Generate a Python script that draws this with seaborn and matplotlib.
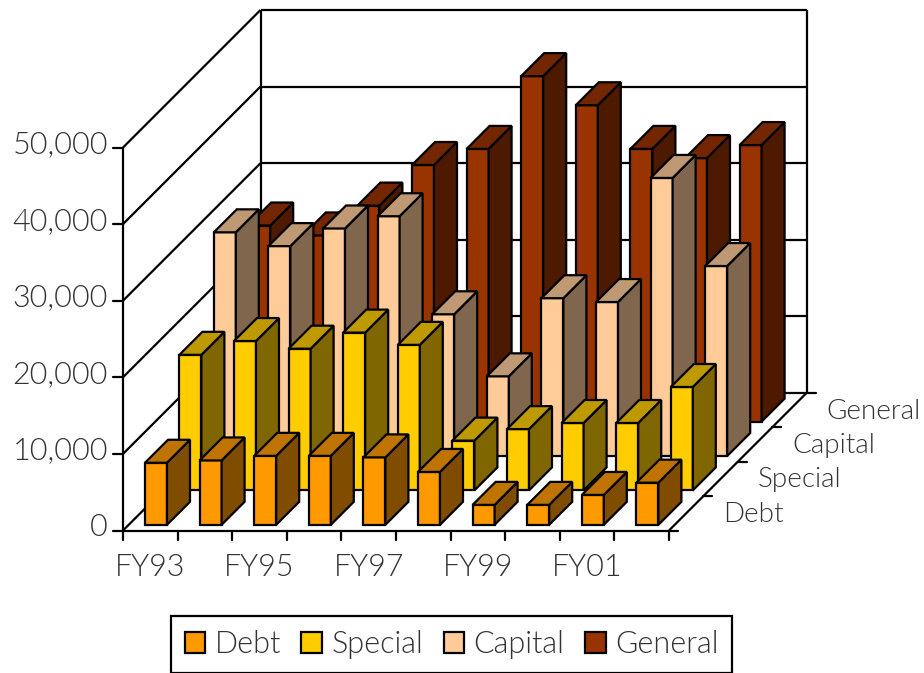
import matplotlib
matplotlib.use("Agg")
import matplotlib.pyplot as plt
from matplotlib.patches import Polygon, Patch
import seaborn as sns
import pandas as pd

years = ["FY93", "FY94", "FY95", "FY96", "FY97", "FY98", "FY99", "FY00", "FY01", "FY02"]
shown_years = ["FY93", "FY95", "FY97", "FY99", "FY01"]
series = ["Debt", "Special", "Capital", "General"]
debt = [8100, 8400, 9000, 9000, 8800, 6900, 2600, 2600, 3900, 5500]
special = [17700, 19500, 18500, 20600, 19000, 6500, 8000, 8800, 8800, 13500]
capital = [29200, 27400, 29700, 31300, 18500, 10400, 20600, 20100, 36300, 24800]
general = [25600, 24300, 28200, 33500, 35600, 45100, 41300, 35600, 34400, 36100]
yticks = [0, 10000, 20000, 30000, 40000, 50000]
colors = ["#FF9900", "#FFCC00", "#FFCC99", "#993300"]

df = pd.DataFrame({"Debt": debt, "Special": special, "Capital": capital, "General": general}, index=years)

sns.set_theme(style="white")
plt.rcParams["font.family"] = ["Lato", "DejaVu Sans"]
TXT = "#333333"
W = 300

fig = plt.figure(figsize=(9.24, 6.73), dpi=100)
ax = fig.add_axes([0, 0, 1, 1])
ax.set_xlim(0, 924)
ax.set_ylim(673, 0)
ax.axis("off")

X0, Y0 = 123.0, 530.5
DX = 54.6
DEPTH = 34.4
VS = 383.0 / 50000
N, M = len(years), len(series)


def proj(x, d, v):
    return (X0 + x * DX + d * DEPTH, Y0 - d * DEPTH - v * VS)


def line(a, b, lw=1.6):
    ax.plot([a[0], b[0]], [a[1], b[1]], color="black", lw=lw, solid_capstyle="butt", zorder=1)


top = yticks[-1]
line(proj(0, 0, 0), proj(0, 0, top))
line(proj(0, M, 0), proj(0, M, top))
line(proj(N, M, 0), proj(N, M, top))
line(proj(0, 0, 0), proj(N, 0, 0))
line(proj(N, 0, 0), proj(N, M, 0))
for v in yticks:
    line(proj(0, 0, v), proj(0, M, v))
    line(proj(0, M, v), proj(N, M, v))
    p = proj(0, 0, v)
    ax.plot([p[0] - 10, p[0]], [p[1], p[1]], color="black", lw=1.6, zorder=1)
    ax.text(108, p[1] - 3, f"{v:,}", ha="right", va="center", fontsize=22, color=TXT, fontweight=W)
for i in range(N + 1):
    p = proj(i, 0, 0)
    ax.plot([p[0], p[0]], [p[1], p[1] + 9], color="black", lw=1.6, zorder=1)
for j in range(M + 1):
    p = proj(N, j, 0)
    ax.plot([p[0], p[0] + 9], [p[1], p[1]], color="black", lw=1.6, zorder=1)
for i, lab in enumerate(years):
    if lab in shown_years:
        p = proj(i + 0.5, 0, 0)
        ax.text(p[0], 568, lab, ha="center", va="center", fontsize=22, color=TXT, fontweight=W)
for j, lab in enumerate(series):
    p = proj(N, j + 0.5, 0)
    ax.text(p[0] + 37, p[1] + 1, lab, ha="left", va="center", fontsize=20, color=TXT, fontweight=W)


def shade(c, f):
    r, g, b = matplotlib.colors.to_rgb(c)
    return (r * f, g * f, b * f)


WID = 22 / DX
GAPX = (1 - WID) / 2
DEP = 23 / DEPTH
GAPD = (1 - DEP) / 2
for j in range(M - 1, -1, -1):
    c = colors[j]
    vals = df[series[j]].values
    for i, v in enumerate(vals):
        x0, x1 = i + GAPX, i + GAPX + WID
        d0, d1 = j + GAPD, j + GAPD + DEP
        faces = [
            ([proj(x0, d0, 0), proj(x1, d0, 0), proj(x1, d0, v), proj(x0, d0, v)], c),
            ([proj(x1, d0, 0), proj(x1, d1, 0), proj(x1, d1, v), proj(x1, d0, v)], shade(c, 0.5)),
            ([proj(x0, d0, v), proj(x1, d0, v), proj(x1, d1, v), proj(x0, d1, v)], shade(c, 0.75)),
        ]
        for pts, col in faces:
            ax.add_patch(Polygon(pts, closed=True, facecolor=col, edgecolor="black", lw=1.6, joinstyle="miter", zorder=2 + (M - j)))

handles = [Patch(facecolor=c, edgecolor="black", lw=1.6, label=s) for c, s in zip(colors, series)]
leg = ax.legend(handles=handles, ncol=4, loc="center", bbox_to_anchor=(451.5, 644.5), bbox_transform=ax.transData,
                frameon=True, fancybox=False, framealpha=1, edgecolor="black", fontsize=22,
                handlelength=0.68, handleheight=0.68, handletextpad=0.3, columnspacing=0.67,
                borderpad=0.45, borderaxespad=0)
leg.get_frame().set_linewidth(1.6)
for t in leg.get_texts():
    t.set_color(TXT)
    t.set_fontweight(W)

fig.savefig("out.png", dpi=100)
